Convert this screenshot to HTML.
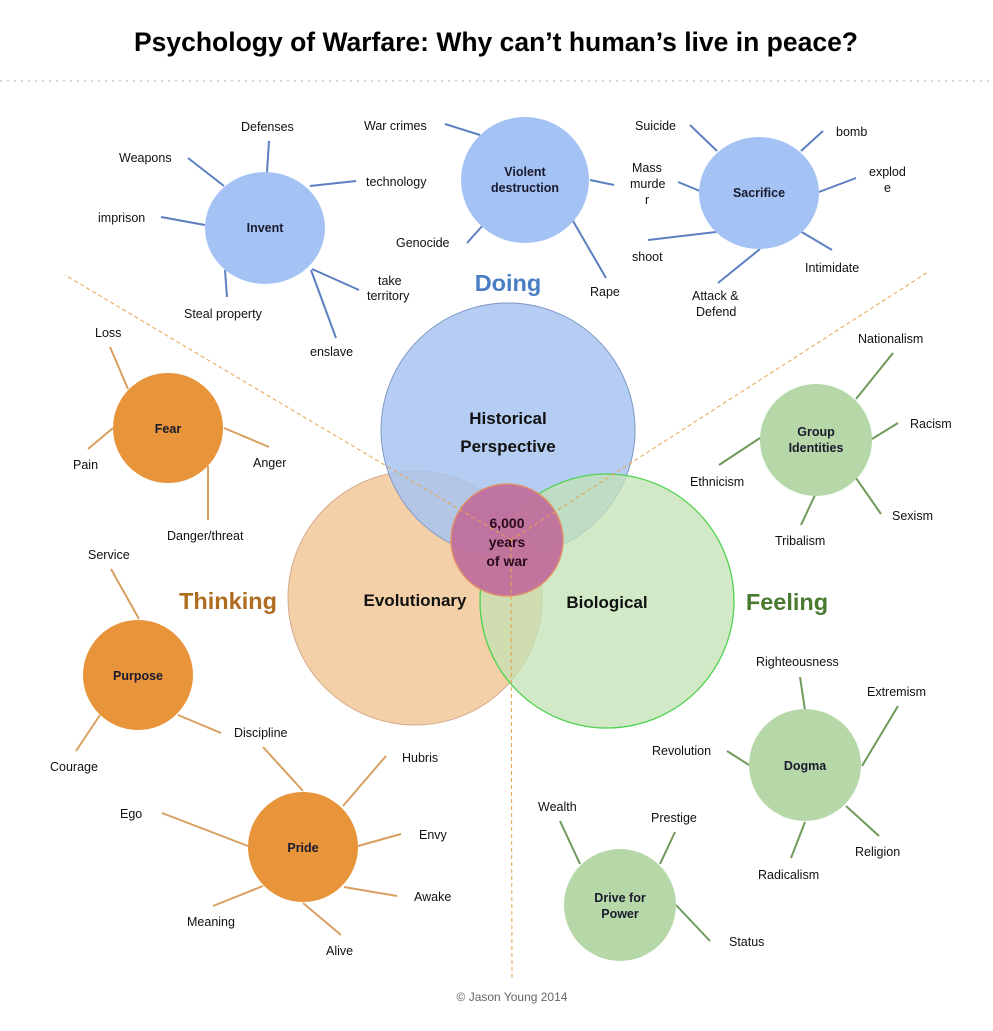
<!DOCTYPE html>
<html><head><meta charset="utf-8"><style>
html,body{margin:0;padding:0;background:#fff;}
svg{display:block;font-family:"Liberation Sans",Arial,sans-serif;}
.l{font-size:12.5px;fill:#111;}
.b{stroke:#5b7fc0;stroke-width:2;}
.o{stroke:#d8a060;stroke-width:2;}
.g{stroke:#6f9a5a;stroke-width:2;}
.n{font-size:12.5px;font-weight:bold;fill:#1a1a2e;text-anchor:middle;}
</style></head><body>
<svg width="993" height="1031" viewBox="0 0 993 1031" xmlns="http://www.w3.org/2000/svg">
<text x="496" y="51" text-anchor="middle" font-size="26.5" font-weight="bold" fill="#000">Psychology of Warfare: Why can’t human’s live in peace?</text>
<line x1="0" y1="81" x2="993" y2="81" stroke="#ccc" stroke-width="1.5" stroke-dasharray="2,5"/>

<!-- big circles -->
<circle cx="415" cy="598" r="127" fill="#f3d0a8" stroke="#d4a98a" stroke-width="1"/>
<circle cx="508" cy="430" r="127" fill="#a8c4f0" fill-opacity="0.85" stroke="#7d97c6" stroke-width="1"/>
<circle cx="607" cy="601" r="127" fill="#c3e2b4" fill-opacity="0.75" stroke="#4fd24f" stroke-width="1.3"/>
<circle cx="507" cy="540" r="56" fill="#c06f9c" fill-opacity="0.95" stroke="#e0906a" stroke-width="1.5"/>
<!-- dashed lines -->
<g stroke="#e6a24a" stroke-width="1" stroke-dasharray="4,3" fill="none">
<line x1="511" y1="540" x2="65" y2="275"/>
<line x1="511" y1="540" x2="928" y2="272"/>
<line x1="511" y1="540" x2="512" y2="980"/>
</g>
<text x="508" y="424" text-anchor="middle" font-size="17" font-weight="bold" fill="#111">Historical</text>
<text x="508" y="452" text-anchor="middle" font-size="17" font-weight="bold" fill="#111">Perspective</text>
<text x="415" y="606" text-anchor="middle" font-size="17" font-weight="bold" fill="#111">Evolutionary</text>
<text x="607" y="608" text-anchor="middle" font-size="17" font-weight="bold" fill="#111">Biological</text>
<text x="507" y="528" text-anchor="middle" font-size="14" font-weight="bold" fill="#2a0a1a">6,000</text>
<text x="507" y="547" text-anchor="middle" font-size="14" font-weight="bold" fill="#2a0a1a">years</text>
<text x="507" y="566" text-anchor="middle" font-size="14" font-weight="bold" fill="#2a0a1a">of war</text>

<text x="508" y="291" text-anchor="middle" font-size="23.5" font-weight="bold" fill="#4a7ec4">Doing</text>
<text x="228" y="609" text-anchor="middle" font-size="23.5" font-weight="bold" fill="#b06c20">Thinking</text>
<text x="787" y="610" text-anchor="middle" font-size="23.5" font-weight="bold" fill="#4a7a30">Feeling</text>

<!-- Invent -->
<g class="b">
<line x1="267" y1="172" x2="269" y2="141"/>
<line x1="224" y1="186" x2="188" y2="158"/>
<line x1="310" y1="186" x2="356" y2="181"/>
<line x1="205" y1="225" x2="161" y2="217"/>
<line x1="225" y1="270" x2="227" y2="297"/>
<line x1="312" y1="269" x2="359" y2="290"/>
<line x1="311" y1="270" x2="336" y2="338"/>
</g>
<ellipse cx="265" cy="228" rx="60" ry="56" fill="#a4c2f4"/>
<text x="265" y="232" class="n">Invent</text>
<g class="l">
<text x="241" y="131">Defenses</text>
<text x="119" y="162">Weapons</text>
<text x="366" y="186">technology</text>
<text x="98" y="222">imprison</text>
<text x="378" y="285">take</text><text x="367" y="300">territory</text>
<text x="184" y="318">Steal property</text>
<text x="310" y="356">enslave</text>
</g>

<!-- Violent destruction -->
<g class="b">
<line x1="480" y1="135" x2="445" y2="124"/>
<line x1="590" y1="180" x2="614" y2="185"/>
<line x1="484" y1="224" x2="467" y2="243"/>
<line x1="573" y1="221" x2="606" y2="278"/>
</g>
<ellipse cx="525" cy="180" rx="64" ry="63" fill="#a4c2f4"/>
<text x="525" y="176" class="n">Violent</text>
<text x="525" y="192" class="n">destruction</text>
<g class="l">
<text x="364" y="130">War crimes</text>
<text x="396" y="247">Genocide</text>
<text x="590" y="296">Rape</text>
<text x="632" y="172">Mass</text><text x="630" y="188">murde</text><text x="645" y="204">r</text>
</g>

<!-- Sacrifice -->
<g class="b">
<line x1="717" y1="151" x2="690" y2="125"/>
<line x1="801" y1="151" x2="823" y2="131"/>
<line x1="819" y1="192" x2="856" y2="178"/>
<line x1="700" y1="191" x2="678" y2="182"/>
<line x1="716" y1="232" x2="648" y2="240"/>
<line x1="800" y1="231" x2="832" y2="250"/>
<line x1="760" y1="249" x2="718" y2="283"/>
</g>
<ellipse cx="759" cy="193" rx="60" ry="56" fill="#a4c2f4"/>
<text x="759" y="197" class="n">Sacrifice</text>
<g class="l">
<text x="635" y="130">Suicide</text>
<text x="836" y="136">bomb</text>
<text x="869" y="176">explod</text><text x="884" y="192">e</text>
<text x="632" y="261">shoot</text>
<text x="805" y="272">Intimidate</text>
<text x="692" y="300">Attack &amp;</text><text x="696" y="316">Defend</text>
</g>

<!-- Fear -->
<g class="o">
<line x1="128" y1="389" x2="110" y2="347"/>
<line x1="113" y1="428" x2="88" y2="449"/>
<line x1="224" y1="428" x2="269" y2="447"/>
<line x1="208" y1="466" x2="208" y2="520"/>
</g>
<circle cx="168" cy="428" r="55" fill="#e8943a"/>
<text x="168" y="433" class="n" fill="#3a1500">Fear</text>
<g class="l">
<text x="95" y="337">Loss</text>
<text x="73" y="469">Pain</text>
<text x="253" y="467">Anger</text>
<text x="167" y="540">Danger/threat</text>
</g>

<!-- Purpose -->
<g class="o">
<line x1="139" y1="619" x2="111" y2="569"/>
<line x1="178" y1="715" x2="221" y2="733"/>
<line x1="100" y1="715" x2="76" y2="751"/>
</g>
<circle cx="138" cy="675" r="55" fill="#e8943a"/>
<text x="138" y="680" class="n">Purpose</text>
<g class="l">
<text x="88" y="559">Service</text>
<text x="234" y="737">Discipline</text>
<text x="50" y="771">Courage</text>
</g>

<!-- Pride -->
<g class="o">
<line x1="303" y1="791" x2="263" y2="747"/>
<line x1="343" y1="806" x2="386" y2="756"/>
<line x1="248" y1="846" x2="162" y2="813"/>
<line x1="358" y1="846" x2="401" y2="834"/>
<line x1="344" y1="887" x2="397" y2="896"/>
<line x1="263" y1="886" x2="213" y2="906"/>
<line x1="303" y1="903" x2="341" y2="935"/>
</g>
<circle cx="303" cy="847" r="55" fill="#e8943a"/>
<text x="303" y="852" class="n">Pride</text>
<g class="l">
<text x="402" y="762">Hubris</text>
<text x="120" y="818">Ego</text>
<text x="419" y="839">Envy</text>
<text x="414" y="901">Awake</text>
<text x="187" y="926">Meaning</text>
<text x="326" y="955">Alive</text>
</g>

<!-- Group Identities -->
<g class="g">
<line x1="856" y1="399" x2="893" y2="353"/>
<line x1="872" y1="439" x2="898" y2="423"/>
<line x1="760" y1="438" x2="719" y2="465"/>
<line x1="856" y1="478" x2="881" y2="514"/>
<line x1="815" y1="495" x2="801" y2="525"/>
</g>
<circle cx="816" cy="440" r="56" fill="#b6d7a8"/>
<text x="816" y="436" class="n">Group</text>
<text x="816" y="452" class="n">Identities</text>
<g class="l">
<text x="858" y="343">Nationalism</text>
<text x="910" y="428">Racism</text>
<text x="690" y="486">Ethnicism</text>
<text x="892" y="520">Sexism</text>
<text x="775" y="545">Tribalism</text>
</g>

<!-- Dogma -->
<g class="g">
<line x1="805" y1="710" x2="800" y2="677"/>
<line x1="862" y1="766" x2="898" y2="706"/>
<line x1="749" y1="765" x2="727" y2="751"/>
<line x1="846" y1="806" x2="879" y2="836"/>
<line x1="805" y1="822" x2="791" y2="858"/>
</g>
<circle cx="805" cy="765" r="56" fill="#b6d7a8"/>
<text x="805" y="770" class="n">Dogma</text>
<g class="l">
<text x="756" y="666">Righteousness</text>
<text x="867" y="696">Extremism</text>
<text x="652" y="755">Revolution</text>
<text x="855" y="856">Religion</text>
<text x="758" y="879">Radicalism</text>
</g>

<!-- Drive for Power -->
<g class="g">
<line x1="580" y1="864" x2="560" y2="821"/>
<line x1="660" y1="864" x2="675" y2="832"/>
<line x1="676" y1="905" x2="710" y2="941"/>
</g>
<circle cx="620" cy="905" r="56" fill="#b6d7a8"/>
<text x="620" y="902" class="n">Drive for</text>
<text x="620" y="918" class="n">Power</text>
<g class="l">
<text x="538" y="811">Wealth</text>
<text x="651" y="822">Prestige</text>
<text x="729" y="946">Status</text>
</g>

<text x="512" y="1001" text-anchor="middle" font-size="12" fill="#666">© Jason Young 2014</text>
</svg>
</body></html>
